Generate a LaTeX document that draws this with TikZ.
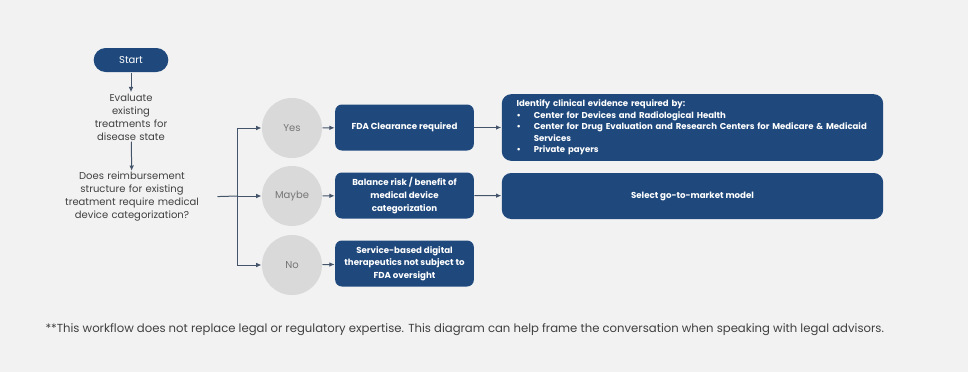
\documentclass[tikz,border=0pt]{standalone}
\usepackage{fontspec}
\setmainfont{Poppins}
\usetikzlibrary{arrows.meta}

\definecolor{bgcol}{RGB}{242,242,242}
\definecolor{navy}{RGB}{31,73,125}
\definecolor{circgrey}{RGB}{217,217,217}
\definecolor{linecol}{RGB}{68,84,106}
\definecolor{bodytext}{RGB}{64,64,64}
\definecolor{circtext}{RGB}{118,118,118}

\tikzset{every picture/.style={line width=0.75pt}}
\tikzset{
	startpill/.style={fill=navy, rounded corners=9pt, minimum width=56pt, minimum height=18pt, text=white, font=\fontsize{7.5}{9}\selectfont},
	flowtxt/.style={align=center, text=bodytext, inner sep=0.75pt, font=\fontsize{7.5}{9.75}\selectfont},
	answer/.style={circle, fill=circgrey, minimum size=45pt, inner sep=0pt, text=circtext, font=\fontsize{7.5}{9}\selectfont},
	stepbox/.style={fill=navy, rounded corners=5pt, minimum width=104pt, minimum height=34.5pt, inner sep=1pt, align=center, text=white, font=\bfseries\fontsize{6.5}{9.5}\selectfont},
	widebox/.style={fill=navy, rounded corners=7pt, minimum width=286pt, inner sep=0pt, text=white, font=\bfseries\fontsize{6.5}{8.6}\selectfont},
	conn/.style={draw=linecol, -{Latex[length=4pt,width=3.5pt]}},
	bare/.style={draw=linecol}
}

\begin{document}
\begin{tikzpicture}[x=0.75pt,y=0.75pt,yscale=-1,xscale=1]
	%background, sets the size of the page
	\fill[bgcol] (0,0) rectangle (968,372);
	\useasboundingbox (0,0) rectangle (968,372);
	
	% Start
	\node [startpill] (start) at (131,60) {Start};
	% Text Node
	\node [flowtxt, text width=70pt] (eval) at (131,117) {Evaluate\\existing\\treatments for\\disease state};
	% Text Node
	\node [flowtxt, text width=104pt] (quest) at (132,197) {Does reimbursement\\structure for existing\\treatment require medical\\device categorization?};
	\coordinate (split) at (237,196);
	
	% answers
	\node [answer] (yes) at (292,128) {Yes};
	\node [answer] (maybe) at (292,196) {Maybe};
	\node [answer] (no) at (292,265) {No};
	
	% outcome boxes
	\node [stepbox] (fda) at (404.5,127.5) {FDA Clearance required};
	\node [stepbox] (balance) at (404.5,195.5) {Balance risk / benefit of\\medical device\\categorization};
	\node [stepbox] (service) at (404.5,263.5) {Service-based digital\\therapeutics not subject to\\FDA oversight};
	
	% wide boxes
	\node [widebox, minimum height=50pt, text width=264pt, inner xsep=11pt, align=left, font=\bfseries\fontsize{6.4}{8.6}\selectfont] (evid) at (692.5,127.5) {Identify clinical evidence required by:\\
		\makebox[13pt][l]{\textbullet}Center for Devices and Radiological Health\\
		\makebox[13pt][l]{\textbullet}Center for Drug Evaluation and Research Centers for Medicare \& Medicaid\\
		\makebox[13pt][l]{}Services\\
		\makebox[13pt][l]{\textbullet}Private payers};
	\node [widebox, minimum height=34.5pt] (market) at (692.5,196) {Select go-to-market model};
	
	% connectors
	\draw [conn] (start) -- (eval);
	\draw [conn] (eval) -- (quest);
	\draw [bare, shorten <=11pt] (quest.east) -- (split);
	\draw [conn] (split) |- (yes);
	\draw [conn] (split) -- (maybe);
	\draw [conn] (split) |- (no);
	\draw [conn] (yes) -- (fda);
	\draw [conn] (maybe) -- (balance);
	\draw [conn] (no) -- (service);
	\draw [conn] (fda) -- (evid);
	\draw [conn] (balance) -- (market);
	
	% Text Node
	\node [anchor=west, text=bodytext, inner sep=0pt, font=\fontsize{8.75}{10}\selectfont] (note) at (45,330) {**This workflow does not replace legal or regulatory expertise. This diagram can help frame the conversation when speaking with legal advisors.};
\end{tikzpicture}
\end{document}
